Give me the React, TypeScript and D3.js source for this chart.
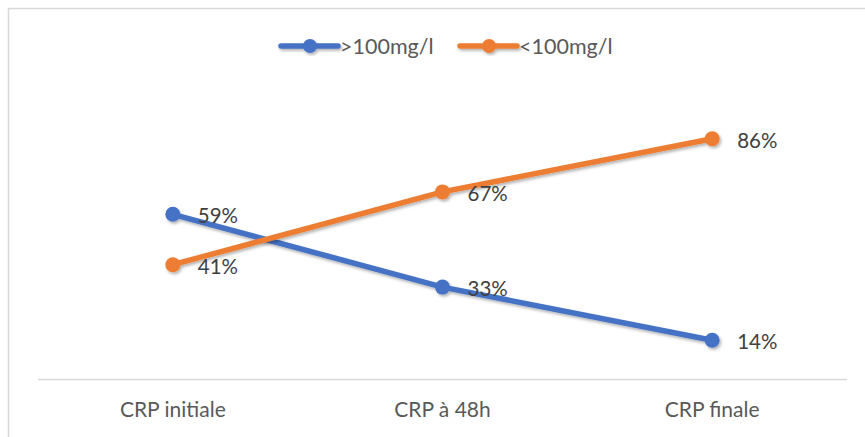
import React from "react";
import * as d3 from "d3";

const categories = ["CRP initiale", "CRP à 48h", "CRP finale"];
const seriesNames = [">100mg/l", "<100mg/l"];
const highValues = [59, 33, 14];
const lowValues = [41, 67, 86];
const seriesColors = ["#4472C4", "#ED7D31"];

const W = 865;
const H = 437;
const FONT = "Lato, 'Open Sans', 'Liberation Sans', sans-serif";

export default function App() {
  const x = d3.scaleBand<string>().domain(categories).range([38, 847]);
  const y = d3.scaleLinear().domain([0, 100]).range([379.5, 99.5]);
  const cx = (c: string) => (x(c) ?? 0) + x.bandwidth() / 2;

  const line = d3
    .line<[string, number]>()
    .x((d) => cx(d[0]))
    .y((d) => y(d[1]));

  const series = [highValues, lowValues].map((vals, i) => ({
    name: seriesNames[i],
    color: seriesColors[i],
    points: categories.map((c, j) => [c, vals[j]] as [string, number]),
  }));

  const legendX = [281, 460];
  const legendY = 46;

  return (
    <svg
      width={W}
      height={H}
      style={{ position: "absolute", left: 0, top: 0 }}
      fontFamily={FONT}
    >
      <defs>
        <filter id="shadow" x="-20%" y="-20%" width="140%" height="140%">
          <feDropShadow dx="1.5" dy="2" stdDeviation="1.6" floodColor="#000" floodOpacity="0.3" />
        </filter>
      </defs>
      <rect x={0} y={0} width={W} height={H} fill="#fff" />
      <rect x={8.5} y={8.5} width={900} height={500} fill="#fff" stroke="#d9d9d9" strokeWidth={1.5} />

      {/* category axis */}
      <line x1={38} x2={847} y1={379.5} y2={379.5} stroke="#d9d9d9" strokeWidth={1.5} />
      {categories.map((c) => (
        <text key={c} x={cx(c)} y={417} textAnchor="middle" fontSize={21} fill="#595959">
          {c}
        </text>
      ))}

      {/* series lines and markers */}
      {series.map((s) => (
        <g key={s.name} filter="url(#shadow)">
          <path d={line(s.points) ?? ""} fill="none" stroke={s.color} strokeWidth={5.5} strokeLinecap="round" />
          {s.points.map((p) => (
            <circle key={p[0]} cx={cx(p[0])} cy={y(p[1])} r={7.5} fill={s.color} />
          ))}
        </g>
      ))}

      {/* data labels */}
      {series.map((s) =>
        s.points.map((p) => (
          <text
            key={s.name + p[0]}
            x={cx(p[0]) + 25}
            y={y(p[1]) + 9}
            fontSize={20.5}
            fill="#404040"
          >
            {p[1]}%
          </text>
        ))
      )}

      {/* legend */}
      {series.map((s, i) => (
        <g key={s.name} filter="url(#shadow)">
          <line
            x1={legendX[i]}
            x2={legendX[i] + 57}
            y1={legendY}
            y2={legendY}
            stroke={s.color}
            strokeWidth={5.5}
            strokeLinecap="round"
          />
          <circle cx={legendX[i] + 29} cy={legendY} r={7} fill={s.color} />
        </g>
      ))}
      {series.map((s, i) => (
        <text key={s.name} x={legendX[i] + 59} y={legendY + 8} fontSize={21.5} fill="#595959">
          {s.name}
        </text>
      ))}
    </svg>
  );
}
